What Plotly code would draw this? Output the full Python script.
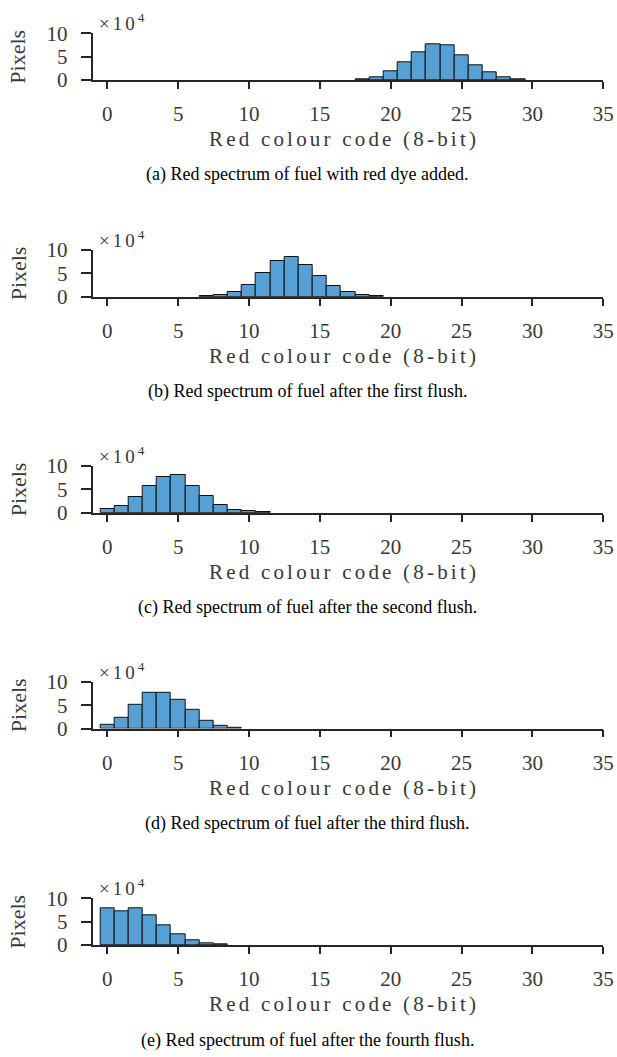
import plotly.graph_objects as go

# ---------------- data (pixel counts per 8-bit red colour code) ----------------
codes_a = [18, 19, 20, 21, 22, 23, 24, 25, 26, 27, 28, 29]
counts_a = [500, 5000, 19000, 38500, 60000, 76000, 74000, 52500, 32500, 16500, 5000, 1000]

codes_b = [7, 8, 9, 10, 11, 12, 13, 14, 15, 16, 17, 18, 19]
counts_b = [500, 3000, 10000, 25000, 51000, 77000, 84000, 68000, 44000, 22500, 10000, 3000, 500]

codes_c = [0, 1, 2, 3, 4, 5, 6, 7, 8, 9, 10, 11]
counts_c = [8000, 13600, 33000, 57000, 77000, 80000, 58000, 36000, 16000, 5700, 3000, 1000]

codes_d = [0, 1, 2, 3, 4, 5, 6, 7, 8, 9]
counts_d = [8600, 23000, 51000, 77000, 77500, 61000, 39000, 16000, 5700, 1500]

codes_e = [0, 1, 2, 3, 4, 5, 6, 7, 8]
counts_e = [79000, 73000, 78000, 63000, 43000, 23500, 10000, 4000, 500]

captions = [
    "(a) Red spectrum of fuel with red dye added.",
    "(b) Red spectrum of fuel after the first flush.",
    "(c) Red spectrum of fuel after the second flush.",
    "(d) Red spectrum of fuel after the third flush.",
    "(e) Red spectrum of fuel after the fourth flush.",
]
x_ticks = [0, 5, 10, 15, 20, 25, 30, 35]
y_ticks = [0, 50000, 100000]
y_ticktext = ["0", "5", "10"]
x_title = "Red colour code (8-bit)"
y_title = "Pixels"

panels = [(codes_a, counts_a), (codes_b, counts_b), (codes_c, counts_c),
          (codes_d, counts_d), (codes_e, counts_e)]

# ---------------- layout geometry (pixels, page coordinates) ----------------
W, H = 617, 1057
x_left, x_right = 92.7, 603.3
baselines = [80, 296.7, 512.7, 728.5, 945]
plot_h = 46.7
FONT = "Liberation Serif, Times New Roman, serif"
AX_COL = "#262626"
TXT_COL = "#383838"
BAR_COL = "rgb(86,160,214)"


def fy(py):
    return 1 - py / H


def fx(px):
    return px / W


def spaced(txt, px):
    return f'<span style="letter-spacing:{px}px">{txt}</span>'


fig = go.Figure()
annotations = []
layout_axes = {}

for i, (codes, counts) in enumerate(panels):
    n = i + 1
    xa = "x" if n == 1 else f"x{n}"
    ya = "y" if n == 1 else f"y{n}"
    fig.add_trace(go.Bar(
        x=codes, y=counts, width=1, xaxis=xa, yaxis=ya,
        marker=dict(color=BAR_COL, line=dict(color="#111111", width=1)),
        showlegend=False, hoverinfo="skip",
    ))
    base = baselines[i]
    top = base - plot_h
    xkey = "xaxis" if n == 1 else f"xaxis{n}"
    ykey = "yaxis" if n == 1 else f"yaxis{n}"
    layout_axes[xkey] = dict(
        domain=[fx(x_left), fx(x_right)], anchor=ya, range=[-1.03, 35],
        tickvals=x_ticks, ticks="outside", ticklen=7, tickwidth=1.8,
        tickcolor=AX_COL, showline=True, linecolor=AX_COL, linewidth=1.8,
        showgrid=False, zeroline=False, automargin=False, ticklabelstandoff=7,
        tickfont=dict(family=FONT, size=21, color=TXT_COL), fixedrange=True,
    )
    layout_axes[ykey] = dict(
        domain=[fy(base), fy(top)], anchor=xa, range=[0, 100000],
        tickvals=y_ticks, ticktext=y_ticktext, ticks="outside", ticklen=10,
        tickwidth=1.8, tickcolor=AX_COL, showline=True, linecolor=AX_COL,
        linewidth=1.8, showgrid=False, zeroline=False, automargin=False,
        ticklabelstandoff=9,
        tickfont=dict(family=FONT, size=21, color=TXT_COL), fixedrange=True,
    )
    annotations.append(dict(
        text=spaced("×10<sup>4</sup>", 3), x=fx(97), y=fy(top - 11),
        xref="paper", yref="paper", xanchor="left", yanchor="middle",
        showarrow=False, font=dict(family=FONT, size=19, color=TXT_COL),
    ))
    annotations.append(dict(
        text=y_title, x=fx(18), y=fy(base - plot_h / 2),
        xref="paper", yref="paper", xanchor="center", yanchor="middle",
        textangle=-90, showarrow=False,
        font=dict(family=FONT, size=22, color=TXT_COL),
    ))
    annotations.append(dict(
        text=spaced(x_title, 3.2), x=fx(344), y=fy(base + 59), xref="paper",
        yref="paper", xanchor="center", yanchor="middle", showarrow=False,
        font=dict(family=FONT, size=21, color=TXT_COL),
    ))
    annotations.append(dict(
        text=captions[i], x=fx(307), y=fy(base + 95), xref="paper",
        yref="paper", xanchor="center", yanchor="middle", showarrow=False,
        font=dict(family=FONT, size=18, color="#000000"),
    ))

fig.update_layout(
    width=W, height=H, margin=dict(l=0, r=0, t=0, b=0, autoexpand=False),
    paper_bgcolor="white", plot_bgcolor="white", bargap=0,
    annotations=annotations, **layout_axes,
)

# remove the default 8px page margin so the 617x1057 figure fills the window
page_js = """
document.documentElement.style.margin = '0';
document.documentElement.style.overflow = 'hidden';
document.body.style.margin = '0';
document.body.style.overflow = 'hidden';
"""

fig.write_html("out.html", config={"displayModeBar": False}, post_script=page_js)
